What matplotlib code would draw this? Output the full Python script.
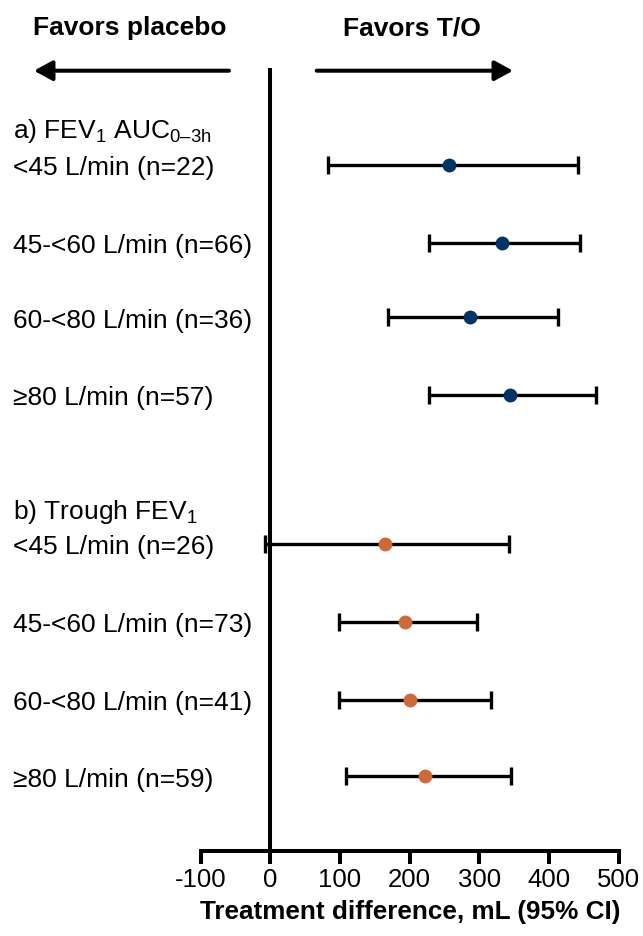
import matplotlib
matplotlib.use("Agg")
import matplotlib.pyplot as plt
from matplotlib.transforms import blended_transform_factory

plt.rcParams['font.family'] = ['Liberation Sans', 'DejaVu Sans']
plt.rcParams['mathtext.fontset'] = 'custom'
plt.rcParams['mathtext.rm'] = 'Liberation Sans'
plt.rcParams['mathtext.it'] = 'Liberation Sans:italic'
plt.rcParams['mathtext.bf'] = 'Liberation Sans:bold'

# ---- data ----
labels_a = ["<45 L/min (n=22)", "45-<60 L/min (n=66)", "60-<80 L/min (n=36)", "\u226580 L/min (n=57)"]
est_a = [257, 333, 286, 344]
lo_a = [83, 227, 169, 227]
hi_a = [441, 445, 413, 468]

labels_b = ["<45 L/min (n=26)", "45-<60 L/min (n=73)", "60-<80 L/min (n=41)", "\u226580 L/min (n=59)"]
est_b = [165, 193, 201, 222]
lo_b = [-7, 99, 99, 108]
hi_b = [343, 297, 317, 346]

header_a = "a) FEV$_\\mathregular{1}$ AUC$_\\mathregular{0\u20133h}$"
header_b = "b) Trough FEV$_\\mathregular{1}$"
xticks = [-100, 0, 100, 200, 300, 400, 500]
xlabel = "Treatment difference, mL (95% CI)"

# ---- layout ----
pos_a = [0, 1.01, 1.98, 2.99]
pos_b = [4.92, 5.93, 6.95, 7.94]
col_a = '#003366'
col_b = '#D0693A'

W, H = 643, 937
fig = plt.figure(figsize=(W / 100, H / 100), dpi=100)
ax = fig.add_axes([200.7 / W, 85 / H, (618.7 - 200.7) / W, (852 - 69) / H])
ax.set_xlim(-100, 500)
ax.set_ylim(8.91, -1.26)

for pos, est, lo, hi, col in [(pos_a, est_a, lo_a, hi_a, col_a), (pos_b, est_b, lo_b, hi_b, col_b)]:
    xerr = [[e - l for e, l in zip(est, lo)], [h - e for e, h in zip(est, hi)]]
    ax.errorbar(est, pos, xerr=xerr, fmt='none', ecolor='black', elinewidth=2.4,
                capsize=6.4, capthick=2.4, zorder=2)
    ax.plot(est, pos, 'o', color=col, markersize=10, markeredgewidth=0, zorder=3)

ax.axvline(0, color='black', lw=2.9, zorder=1)

for s in ['top', 'right', 'left']:
    ax.spines[s].set_visible(False)
ax.spines['bottom'].set_linewidth(2.9)
ax.set_yticks([])
ax.set_xticks(xticks)
ax.set_xticklabels([str(t) for t in xticks])
ax.tick_params(axis='x', direction='out', length=9.4, width=2.9, labelsize=18.5, pad=2)
ax.set_xlabel(xlabel, fontsize=18.8, fontweight='bold', labelpad=6)

trans = blended_transform_factory(fig.transFigure, ax.transData)
lx = 12.7 / W
for pos, labs in [(pos_a, labels_a), (pos_b, labels_b)]:
    for p, lab in zip(pos, labs):
        ax.text(lx, p + 0.12, lab, transform=trans, fontsize=19, ha='left', va='baseline')
ax.text(lx, pos_a[0] - 0.36, header_a, transform=trans, fontsize=19, ha='left', va='baseline')
ax.text(lx, pos_b[0] - 0.34, header_b, transform=trans, fontsize=19, ha='left', va='baseline')

# header texts and arrows
yt = 1 - 35 / H
fig.text(129.7 / W, yt, "Favors placebo", fontsize=19, fontweight='bold', ha='center', va='baseline')
fig.text(411.5 / W, yt, "Favors T/O", fontsize=19, fontweight='bold', ha='center', va='baseline')
ya = 1 - 71.7 / H
style = '-|>,head_length=0.55,head_width=0.3'
ax.annotate('', xy=(34 / W, ya), xytext=(229 / W, ya), xycoords='figure fraction',
            textcoords='figure fraction',
            arrowprops=dict(arrowstyle=style, lw=2.9, color='black', mutation_scale=20,
                            shrinkA=0, shrinkB=0))
ax.annotate('', xy=(513 / W, ya), xytext=(316.7 / W, ya), xycoords='figure fraction',
            textcoords='figure fraction',
            arrowprops=dict(arrowstyle=style, lw=2.9, color='black', mutation_scale=20,
                            shrinkA=0, shrinkB=0))

fig.savefig('out.png', dpi=100)
